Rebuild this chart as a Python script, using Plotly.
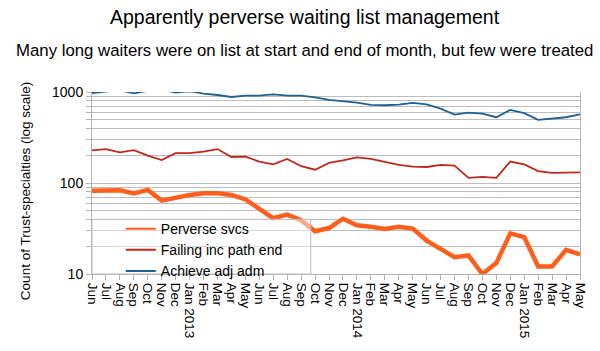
import plotly.graph_objects as go

months = ["Jun", "Jul", "Aug", "Sep", "Oct", "Nov", "Dec", "Jan 2013", "Feb", "Mar", "Apr", "May",
          "Jun", "Jul", "Aug", "Sep", "Oct", "Nov", "Dec", "Jan 2014", "Feb", "Mar", "Apr", "May",
          "Jun", "Jul", "Aug", "Sep", "Oct", "Nov", "Dec", "Jan 2015", "Feb", "Mar", "Apr", "May"]

perverse = [82, 82, 83, 77, 84, 64, 69, 74, 77, 77, 74, 66,
            52, 41, 45, 39, 29.5, 32, 40.5, 34.3, 33, 31.3, 33, 31.6,
            23.3, 18.6, 15.3, 16, 10, 13.2, 28, 25.4, 12.1, 12.1, 18.4, 16.4]

failing = [228, 236, 217, 230, 200, 179, 213, 213, 221, 236, 193, 195,
           172, 160, 184, 153, 140, 166, 177, 191, 184, 169, 158, 151,
           150, 158, 155, 114, 117, 114, 172, 160, 135, 129, 131, 131]

achieve = [975, 1010, 1050, 965, 1030, 1060, 985, 1020, 958, 927, 881, 911,
           911, 942, 911, 911, 873, 818, 797, 764, 721, 715, 727, 758,
           732, 657, 565, 594, 579, 528, 636, 585, 494, 515, 528, 569]

series_names = ["Perverse svcs", "Failing inc path end", "Achieve adj adm"]
series_colors = ["#ff5e1c", "#c0281e", "#1f5f91"]
series_widths = [4.5, 1.8, 1.8]

y_grid = [10, 20, 30, 40, 50, 60, 70, 80, 90,
          100, 200, 300, 400, 500, 600, 700, 800, 900, 1000]
y_text = [str(v) if v in (10, 100, 1000) else "" for v in y_grid]

x = list(range(len(months)))
FONT = "Liberation Sans, Arial, sans-serif"

fig = go.Figure()
for vals, name, col, w in zip([perverse, failing, achieve], series_names, series_colors, series_widths):
    fig.add_trace(go.Scatter(x=x, y=vals, name=name, mode="lines", showlegend=False,
                             line=dict(color=col, width=w)))
# legend entries (thin sample lines like the reference)
for name, col in zip(series_names, series_colors):
    fig.add_trace(go.Scatter(x=[None], y=[None], name=name, mode="lines",
                             line=dict(color=col, width=2)))

fig.update_layout(
    width=600, height=351,
    margin=dict(l=92, r=15, t=92, b=76),
    paper_bgcolor="white", plot_bgcolor="white",
    font=dict(family=FONT, size=14, color="black"),
    title=dict(text="Apparently perverse waiting list management", x=(304.5 / 600), xanchor="center",
               y=1 - 17 / 351, yanchor="middle", font=dict(size=19.5, family=FONT)),
    showlegend=True,
    legend=dict(x=0.059, xanchor="left", y=0.335, yanchor="top",
                bgcolor="rgba(0,0,0,0)", font=dict(size=14, family=FONT),
                tracegroupgap=0),
    shapes=[
        # legend box: semi-transparent white panel with grey frame
        dict(type="rect", xref="paper", yref="paper",
             x0=0, x1=(313 - 92) / 493, y0=0, y1=(275 - 220) / 183,
             fillcolor="rgba(255,255,255,0.45)", line=dict(color="#bdbdbd", width=1),
             layer="above"),
    ],
    annotations=[
        dict(text="Many long waiters were on list at start and end of month, but few were treated",
             xref="paper", yref="paper", x=(306.5 - 92) / 493, y=(275 - 50) / 183,
             xanchor="center", yanchor="middle", showarrow=False, font=dict(size=16.8, family=FONT)),
        dict(text="Count of Trust-specialties (log scale)", textangle=-90,
             xref="paper", yref="paper", x=(25 - 92) / 493, y=(275 - 192) / 183,
             xanchor="center", yanchor="middle", showarrow=False, font=dict(size=13.5, family=FONT)),
    ],
)

fig.update_xaxes(range=[0, 35], tickvals=x, ticktext=months, tickangle=90,
                 showgrid=False, zeroline=False, showline=True, linecolor="#b3b3b3",
                 ticks="outside", ticklen=5, tickcolor="#b3b3b3",
                 tickfont=dict(size=13.5, family=FONT))
fig.update_yaxes(type="log", range=[1, 3], tickvals=y_grid, ticktext=y_text,
                 showgrid=True, gridcolor="#bdbdbd", gridwidth=1,
                 showline=True, linecolor="#b3b3b3", mirror=True,
                 ticks="outside", ticklen=5, tickcolor="#b3b3b3",
                 tickfont=dict(size=14, family=FONT), zeroline=False)

fig.write_html("out.html")
